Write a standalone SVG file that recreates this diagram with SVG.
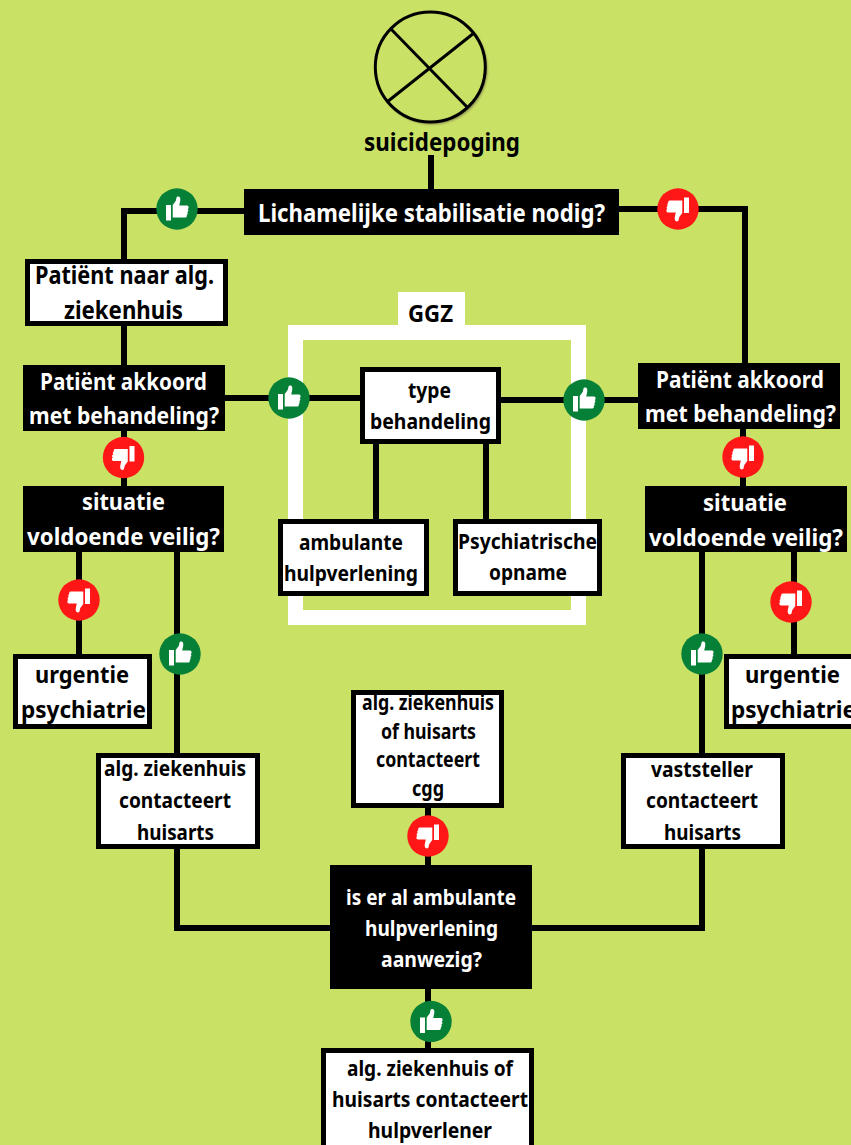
<svg xmlns="http://www.w3.org/2000/svg" width="851" height="1145" viewBox="0 0 851 1145">
<style>
.l{fill:none;stroke:#000;stroke-width:6}
.w{fill:#fff;stroke:#000;stroke-width:5}
.b{fill:#000}
text{font-family:"Noto Sans",sans-serif;font-weight:700;text-anchor:middle;font-variant-ligatures:none}
.t{fill:#000}.u{fill:#fff}
</style>
<defs>
<path id="th" fill="#fff" d="M-11-4h5v15.500h-5zM-4.300-4l3-4 1-4c3-1.500 4 1 3.500 4l-1 4.500h8c1.500 0 2 3 .5 3.500 1 1 1 2.500-.5 3 1 1 .5 2.500-.5 3 .5 1 0 2.500-1.500 2.500H-4.300z"/>
<g id="up"><circle r="20.700" fill="#068037"/><use href="#th"/></g>
<g id="down"><circle r="20.700" fill="#ff1616"/><use href="#th" transform="rotate(180)"/></g>
<filter id="sh" x="-20%" y="-20%" width="140%" height="140%"><feGaussianBlur stdDeviation="1"/></filter>
</defs>
<rect width="851" height="1145" fill="#c9e265"/>
<g id="connectors">
<path class="l" d="M431 155V189M244 211H124V262M124 325V365M619 209H745V363M225 398H362M500 400H638M124 431V486M743 429V486M376 442V521M486 442V521M79 552V655M177 552V754M702 552V754M794 552V655M177 847V928H331M702 847V928H532M428 807V866M428 988V1049"/>
</g>
<g id="frame"><rect x="295.500" y="332.500" width="283" height="285" fill="none" stroke="#fff" stroke-width="15"/><rect x="398" y="292" width="67" height="40" fill="#fff"/><text x="430.500" y="322" font-size="24" class="t" textLength="45" lengthAdjust="spacingAndGlyphs">GGZ</text></g>
<g id="start"><circle cx="432" cy="69" r="55.500" fill="#8f8f55" filter="url(#sh)"/><circle cx="430.300" cy="67" r="55" fill="#c9e265" stroke="#000" stroke-width="3"/><path d="M390 28L468 108M387 102L474 33" fill="none" stroke="#000" stroke-width="3"/><text x="442" y="151" font-size="25" class="t" textLength="156" lengthAdjust="spacingAndGlyphs">suicidepoging</text></g>
<g id="n1"><rect class="b" x="244" y="189" width="375" height="46"/><text x="431.500" y="222" font-size="25" class="u" textLength="347" lengthAdjust="spacingAndGlyphs">Lichamelijke stabilisatie nodig?</text></g>
<g id="n2"><rect class="w" x="27.500" y="261.500" width="198" height="62"/><text x="124.500" y="284" font-size="25" class="t" textLength="179" lengthAdjust="spacingAndGlyphs">Patiënt naar alg.</text><text x="123.500" y="319" font-size="25" class="t" textLength="119" lengthAdjust="spacingAndGlyphs">ziekenhuis</text></g>
<g id="n3"><rect class="b" x="23" y="365" width="202" height="66"/><text x="123.500" y="390" font-size="24" class="u" textLength="167" lengthAdjust="spacingAndGlyphs">Patiënt akkoord</text><text x="124" y="424" font-size="24" class="u" textLength="190" lengthAdjust="spacingAndGlyphs">met behandeling?</text></g>
<g id="n4"><rect class="b" x="638" y="363" width="202" height="66"/><text x="740" y="388" font-size="24" class="u" textLength="168" lengthAdjust="spacingAndGlyphs">Patiënt akkoord</text><text x="740.500" y="422" font-size="24" class="u" textLength="191" lengthAdjust="spacingAndGlyphs">met behandeling?</text></g>
<g id="n5"><rect class="w" x="362.500" y="369.500" width="136" height="72"/><text x="429.500" y="398" font-size="22" class="t" textLength="43" lengthAdjust="spacingAndGlyphs">type</text><text x="430.500" y="429" font-size="22" class="t" textLength="121" lengthAdjust="spacingAndGlyphs">behandeling</text></g>
<g id="n6"><rect class="b" x="23" y="486" width="201" height="66"/><text x="123.500" y="510" font-size="24" class="u" textLength="83" lengthAdjust="spacingAndGlyphs">situatie</text><text x="123.500" y="545" font-size="24" class="u" textLength="193" lengthAdjust="spacingAndGlyphs">voldoende veilig?</text></g>
<g id="n7"><rect class="b" x="645" y="486" width="202" height="66"/><text x="745" y="511" font-size="24" class="u" textLength="84" lengthAdjust="spacingAndGlyphs">situatie</text><text x="746" y="546" font-size="24" class="u" textLength="194" lengthAdjust="spacingAndGlyphs">voldoende veilig?</text></g>
<g id="n8"><rect class="w" x="280.500" y="521.500" width="146" height="72"/><text x="351" y="550" font-size="22" class="t" textLength="104" lengthAdjust="spacingAndGlyphs">ambulante</text><text x="351" y="581" font-size="22" class="t" textLength="134" lengthAdjust="spacingAndGlyphs">hulpverlening</text></g>
<g id="n9"><rect class="w" x="455.500" y="521.500" width="144" height="72"/><text x="527.500" y="549" font-size="22" class="t" textLength="139" lengthAdjust="spacingAndGlyphs">Psychiatrische</text><text x="528" y="580" font-size="22" class="t" textLength="78" lengthAdjust="spacingAndGlyphs">opname</text></g>
<g id="n10"><rect class="w" x="15.500" y="656.500" width="134" height="70"/><text x="82" y="683" font-size="24" class="t" textLength="94" lengthAdjust="spacingAndGlyphs">urgentie</text><text x="83.500" y="718" font-size="24" class="t" textLength="125" lengthAdjust="spacingAndGlyphs">psychiatrie</text></g>
<g id="n11"><rect class="w" x="726.500" y="656.500" width="135" height="70"/><text x="792.500" y="683" font-size="24" class="t" textLength="95" lengthAdjust="spacingAndGlyphs">urgentie</text><text x="793.500" y="718" font-size="24" class="t" textLength="125" lengthAdjust="spacingAndGlyphs">psychiatrie</text></g>
<g id="n12"><rect class="w" x="98.500" y="755.500" width="159" height="91"/><text x="175" y="776" font-size="22" class="t" textLength="142" lengthAdjust="spacingAndGlyphs">alg. ziekenhuis</text><text x="175" y="808" font-size="22" class="t" textLength="112" lengthAdjust="spacingAndGlyphs">contacteert</text><text x="175.500" y="840" font-size="22" class="t" textLength="77" lengthAdjust="spacingAndGlyphs">huisarts</text></g>
<g id="n13"><rect class="w" x="623.500" y="755.500" width="159" height="91"/><text x="702" y="777" font-size="22" class="t" textLength="102" lengthAdjust="spacingAndGlyphs">vaststeller</text><text x="702" y="808" font-size="22" class="t" textLength="112" lengthAdjust="spacingAndGlyphs">contacteert</text><text x="702.500" y="840" font-size="22" class="t" textLength="77" lengthAdjust="spacingAndGlyphs">huisarts</text></g>
<g id="n14"><rect class="w" x="353.500" y="692.500" width="148" height="113"/><text x="428" y="710" font-size="21" class="t" textLength="132" lengthAdjust="spacingAndGlyphs">alg. ziekenhuis</text><text x="428.500" y="739" font-size="21" class="t" textLength="95" lengthAdjust="spacingAndGlyphs">of huisarts</text><text x="428" y="767" font-size="21" class="t" textLength="104" lengthAdjust="spacingAndGlyphs">contacteert</text><text x="428" y="796" font-size="21" class="t" textLength="32" lengthAdjust="spacingAndGlyphs">cgg</text></g>
<g id="n15"><rect class="b" x="330" y="865" width="202" height="124"/><text x="431" y="905" font-size="22" class="u" textLength="170" lengthAdjust="spacingAndGlyphs">is er al ambulante</text><text x="431.500" y="936" font-size="22" class="u" textLength="133" lengthAdjust="spacingAndGlyphs">hulpverlening</text><text x="431.500" y="967" font-size="22" class="u" textLength="101" lengthAdjust="spacingAndGlyphs">aanwezig?</text></g>
<g id="n16"><rect class="w" x="323.500" y="1050.500" width="208" height="100"/><text x="430" y="1076" font-size="22" class="t" textLength="166" lengthAdjust="spacingAndGlyphs">alg. ziekenhuis of</text><text x="430" y="1107" font-size="22" class="t" textLength="196" lengthAdjust="spacingAndGlyphs">huisarts contacteert</text><text x="430" y="1138" font-size="22" class="t" textLength="124" lengthAdjust="spacingAndGlyphs">hulpverlener</text></g>
<g id="badges">
<use href="#up" x="177" y="209"/><use href="#down" x="678" y="209"/><use href="#up" x="289" y="398"/><use href="#up" x="584" y="400"/><use href="#down" x="123.500" y="457.500"/><use href="#down" x="743" y="457"/><use href="#down" x="79" y="600"/><use href="#up" x="180" y="654"/><use href="#up" x="702" y="654"/><use href="#down" x="791" y="602"/><use href="#down" x="428" y="836"/><use href="#up" x="431" y="1021.500"/>
</g>
</svg>
